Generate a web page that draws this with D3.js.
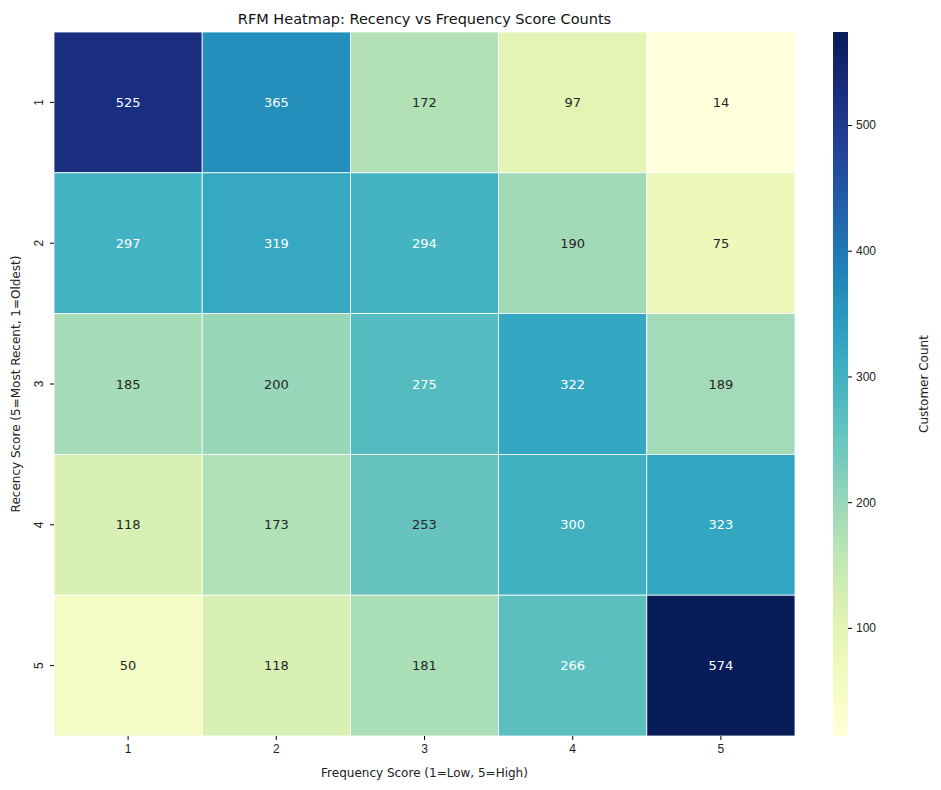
<!DOCTYPE html>
<html><head><meta charset="utf-8">
<script src="https://cdn.jsdelivr.net/npm/d3@7"></script>
<style>body{margin:0;background:#fff;font-family:"DejaVu Sans",sans-serif;}</style>
</head><body>
<svg id="chart" width="941" height="790"></svg>
<script>
// rows: recency 1..5, cols: frequency 1..5
var recency = ["1","2","3","4","5"];
var frequency = ["1","2","3","4","5"];
var counts = [
	[525, 365, 172, 97, 14],
	[297, 319, 294, 190, 75],
	[185, 200, 275, 322, 189],
	[118, 173, 253, 300, 323],
	[50, 118, 181, 266, 574]
];
var barTicks = [100, 200, 300, 400, 500];

var svg = d3.select("#chart");
var mLeft = 54, mRight = 795, mTop = 32, mBottom = 736;

var x = d3.scaleBand().domain(frequency).range([mLeft, mRight]);
var y = d3.scaleBand().domain(recency).range([mTop, mBottom]);
var all = counts.flat();
var vmin = d3.min(all), vmax = d3.max(all);
var color = d3.scaleSequential(d3.interpolateYlGnBu).domain([vmin, vmax]);

var cells = [];
counts.forEach(function(row, i){
	row.forEach(function(v, j){
		cells.push({r: recency[i], f: frequency[j], v: v});
	});
});

svg.selectAll(".cell").data(cells).enter().append("rect")
	.attr("x", function(d){ return x(d.f); })
	.attr("y", function(d){ return y(d.r); })
	.attr("width", x.bandwidth())
	.attr("height", y.bandwidth())
	.attr("fill", function(d){ return color(d.v); })
	.attr("stroke", "#fff").attr("stroke-width", 0.8);

svg.selectAll(".lbl").data(cells).enter().append("text")
	.attr("x", function(d){ return x(d.f) + x.bandwidth()/2; })
	.attr("y", function(d){ return y(d.r) + y.bandwidth()/2; })
	.attr("dy", "0.35em").attr("text-anchor", "middle")
	.attr("font-size", 13)
	.attr("fill", function(d){ return d.v > 260 ? "#fff" : "#262626"; })
	.text(function(d){ return d.v; });

var xAxis = svg.append("g").attr("transform", "translate(0," + mBottom + ")")
	.call(d3.axisBottom(x).tickSize(4).tickPadding(4));
xAxis.select(".domain").remove();
xAxis.selectAll("text").attr("font-size", 12).attr("fill", "#222");

var yAxis = svg.append("g").attr("transform", "translate(" + mLeft + ",0)")
	.call(d3.axisLeft(y).tickSize(4).tickPadding(4));
yAxis.select(".domain").remove();
yAxis.selectAll(".tick text")
	.attr("font-size", 12).attr("fill", "#222")
	.attr("text-anchor", "middle")
	.attr("x", 0).attr("y", 0).attr("dy", 0)
	.attr("transform", "translate(-11,0) rotate(-90)");

svg.append("text").attr("x", (mLeft + mRight)/2).attr("y", 777)
	.attr("text-anchor", "middle").attr("font-size", 12).attr("fill", "#222")
	.text("Frequency Score (1=Low, 5=High)");
svg.append("text").attr("transform", "translate(20," + (mTop + mBottom)/2 + ") rotate(-90)")
	.attr("text-anchor", "middle").attr("font-size", 12).attr("fill", "#222")
	.text("Recency Score (5=Most Recent, 1=Oldest)");
svg.append("text").attr("x", (mLeft + mRight)/2).attr("y", 24)
	.attr("text-anchor", "middle").attr("font-size", 14.5).attr("fill", "#111")
	.text("RFM Heatmap: Recency vs Frequency Score Counts");

// colorbar
var cbX = 833, cbW = 15;
var cy = d3.scaleLinear().domain([vmin, vmax]).range([mBottom, mTop]);
var grad = svg.append("defs").append("linearGradient").attr("id", "cbg")
	.attr("x1", 0).attr("y1", 1).attr("x2", 0).attr("y2", 0);
d3.range(0, 1.0001, 0.05).forEach(function(t){
	grad.append("stop").attr("offset", t).attr("stop-color", d3.interpolateYlGnBu(t));
});
svg.append("rect").attr("x", cbX).attr("y", mTop).attr("width", cbW)
	.attr("height", mBottom - mTop).attr("fill", "url(#cbg)");
var cAxis = svg.append("g").attr("transform", "translate(" + (cbX + cbW) + ",0)")
	.call(d3.axisRight(cy).tickValues(barTicks).tickSize(4).tickPadding(4));
cAxis.select(".domain").remove();
cAxis.selectAll("text").attr("font-size", 12).attr("fill", "#222");
svg.append("text").attr("transform", "translate(928," + (mTop + mBottom)/2 + ") rotate(-90)")
	.attr("text-anchor", "middle").attr("font-size", 12).attr("fill", "#222")
	.text("Customer Count");
</script>
</body></html>
